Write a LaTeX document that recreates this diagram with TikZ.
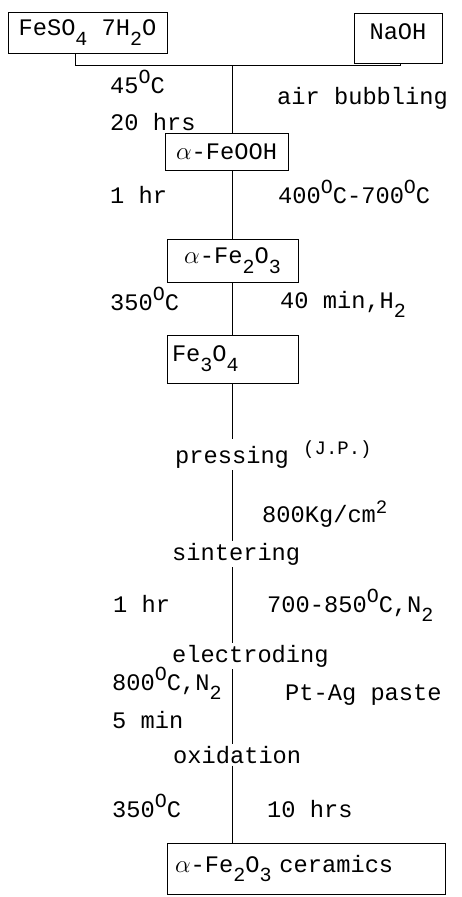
\documentclass[tikz,border=0pt]{standalone}
\usepackage{fontspec}
\setmainfont{Liberation Mono}
\newcommand\dg{\raisebox{0.40em}{\fontsize{20}{20}\selectfont O}}
\newcommand\dn[1]{\raisebox{-0.42em}{\fontsize{20}{20}\selectfont #1}}
\newcommand\upt[1]{\raisebox{0.35em}{\fontsize{19}{19}\selectfont #1}}
\newcommand\alp{$\alpha$}
\tikzset{
  every node/.style={font=\fontsize{23.7}{28}\selectfont, text=black},
  lab/.style={anchor=base west, inner sep=0pt},
  stp/.style={anchor=base west, inner sep=2pt},
  box/.style={draw, line width=1pt, inner sep=0pt, align=center},
  ln/.style={line width=1pt}
}
\begin{document}
\begin{tikzpicture}[x=1pt,y=-1pt]
\useasboundingbox (0,0) rectangle (462,897);
\coordinate (spine) at (232,0);
% boxes
\node[box, minimum width=159pt, minimum height=41pt] (feso) at (87.5,32.5) {FeSO\dn{4} 7H\dn{2}O};
\node[box, minimum width=88pt, minimum height=50pt, text depth=12pt] (naoh) at (398,38) {NaOH};
\node[box, minimum width=123pt, minimum height=37pt] (feooh) at (226.5,151.5) {\alp-FeOOH};
\node[box, minimum width=131pt, minimum height=43pt] (fe2o3) at (232.5,260.5) {\alp-Fe\dn{2}O\dn{3}};
\node[box, minimum width=131pt, minimum height=48pt, text width=121pt, align=left] (fe3o4) at (232.5,359) {Fe\dn{3}O\dn{4}};
\node[box, minimum width=278pt, minimum height=51pt, text width=262pt, align=left] (ceram) at (306,868.5) {\alp-Fe\dn{2}O\dn{3} ceramics};
% junction
\coordinate (j1) at (75,65);
\coordinate (j2) at (400,65);
\coordinate (jm) at (232,65);
\draw[ln] (feso.south -| j1) -- (j1) -- (j2) -- (naoh.south -| j2);
\draw[ln] (jm) -- (jm |- feooh.north);
% labels
\node[lab] (t45) at (110,93) {45\dg C};
\node[lab] (tair) at (277,104) {air bubbling};
\node[lab] (t20) at (110,130) {20 hrs};
\node[lab] (t1a) at (110,203) {1 hr};
\node[lab] (t400) at (278,203) {400\dg C-700\dg C};
\node[lab] (t350a) at (110,310) {350\dg C};
\node[lab] (t40) at (280,308) {40 min,H\dn{2}};
\node[stp] (press) at (173,463) {pressing \upt{(J.P.)}};
\node[lab] (t800k) at (262,522) {800Kg/cm\upt{2}};
\node[stp] (sint) at (170,560) {sintering};
\node[lab] (t1b) at (113,612) {1 hr};
\node[lab] (t700) at (267,612) {700-850\dg C,N\dn{2}};
\node[stp] (elec) at (170,662) {electroding};
\node[lab] (t800c) at (112,690) {800\dg C,N\dn{2}};
\node[lab] (tpt) at (285,700) {Pt-Ag paste};
\node[lab] (t5) at (112,728) {5 min};
\node[stp] (oxid) at (171,763) {oxidation};
\node[lab] (t350b) at (112,817) {350\dg C};
\node[lab] (t10) at (267,817) {10 hrs};
% spine connectors
\draw[ln] (spine |- feooh.south) -- (fe2o3.north -| spine);
\draw[ln] (spine |- fe2o3.south) -- (spine |- fe3o4.north);
\draw[ln] (spine |- fe3o4.south) -- (spine |- press.north);
\draw[ln] (spine |- press.south) -- (spine |- sint.north);
\draw[ln] (spine |- sint.south) -- (spine |- elec.north);
\draw[ln] (spine |- elec.south) -- (spine |- oxid.north);
\draw[ln] (spine |- oxid.south) -- (spine |- ceram.north);
\end{tikzpicture}
\end{document}
